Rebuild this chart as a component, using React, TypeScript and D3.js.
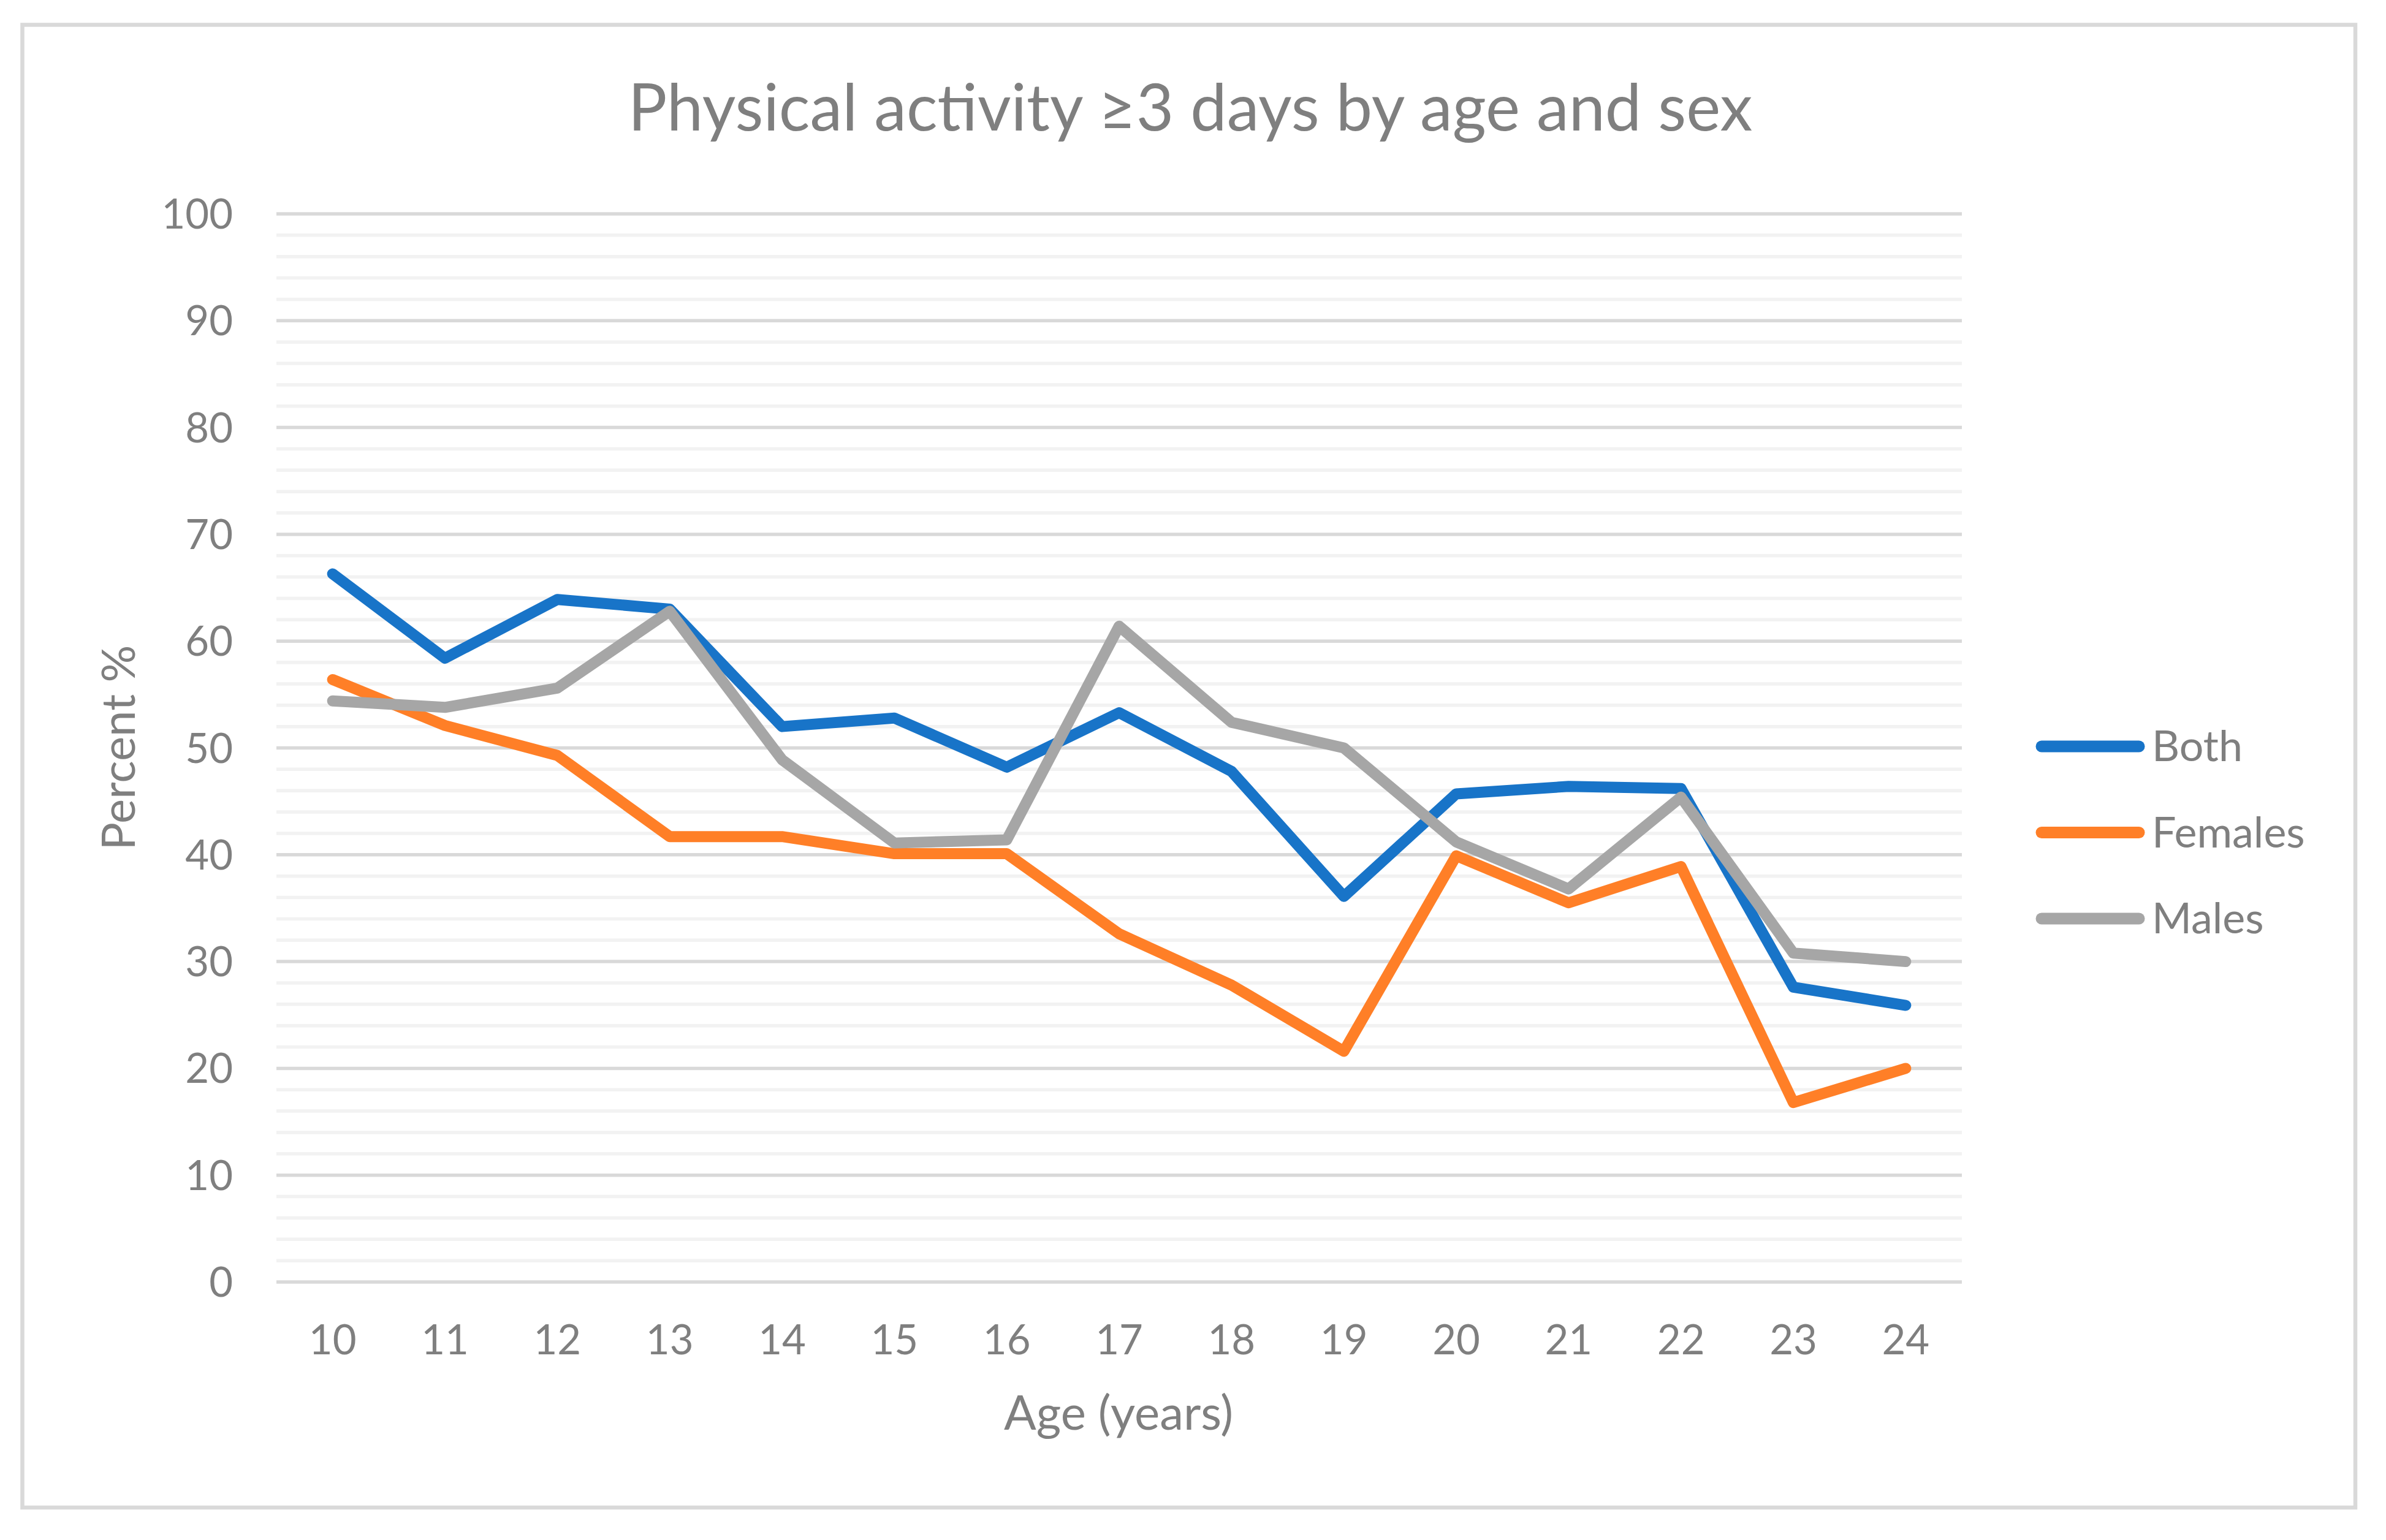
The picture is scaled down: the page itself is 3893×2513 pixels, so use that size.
import * as d3 from "d3";

const ages = ["10", "11", "12", "13", "14", "15", "16", "17", "18", "19", "20", "21", "22", "23", "24"];
const both = [66.3, 58.4, 63.9, 63.0, 52.0, 52.8, 48.2, 53.3, 47.8, 36.1, 45.7, 46.4, 46.2, 27.6, 25.9];
const females = [56.4, 52.1, 49.3, 41.7, 41.7, 40.1, 40.1, 32.6, 27.8, 21.6, 39.9, 35.5, 38.9, 16.8, 20.0];
const males = [54.4, 53.8, 55.6, 62.8, 48.9, 41.1, 41.4, 61.4, 52.4, 50.0, 41.2, 36.8, 45.4, 30.8, 30.0];
const seriesNames = ["Both", "Females", "Males"];
const yTicks = [0, 10, 20, 30, 40, 50, 60, 70, 80, 90, 100];

const W = 3893;
const H = 2513;
const colors = ["#1874c8", "#ff7f27", "#a6a6a6"];
const textColor = "#7f7f7f";
const font = "Lato, 'Open Sans', sans-serif";

export default function App() {
  const x = d3.scaleBand().domain(ages).range([451, 3201]);
  const y = d3.scaleLinear().domain([0, 100]).range([2092, 349]);
  const minor = d3.range(0, 101, 2).filter((v) => v % 10 !== 0);

  const line = d3
    .line<number>()
    .x((_, i) => (x(ages[i]) as number) + x.bandwidth() / 2)
    .y((d) => y(d));

  const series = [both, females, males];

  return (
    <svg
      width={W}
      height={H}
      style={{ position: "absolute", left: 0, top: 0, background: "#fff" }}
      fontFamily={font}
    >
      <rect x={0} y={0} width={W} height={H} fill="#fff" />
      <rect x={36.5} y={40.5} width={3806.5} height={2419.5} fill="#fff" stroke="#d9d9d9" strokeWidth={6.5} />

      <text x={1942} y={213} textAnchor="middle" fontSize={106} fill={textColor}>
        Physical activity ≥3 days by age and sex
      </text>

      {/* gridlines */}
      {minor.map((v) => (
        <line key={"m" + v} x1={451} x2={3201} y1={y(v)} y2={y(v)} stroke="#f2f2f2" strokeWidth={5.5} />
      ))}
      {yTicks.map((v) => (
        <line key={"g" + v} x1={451} x2={3201} y1={y(v)} y2={y(v)} stroke="#d9d9d9" strokeWidth={5.5} />
      ))}

      {/* y tick labels */}
      {yTicks.map((v) => (
        <text key={"t" + v} x={380} y={y(v) + 24} textAnchor="end" fontSize={67} fill={textColor}>
          {v}
        </text>
      ))}

      {/* x tick labels */}
      {ages.map((a) => (
        <text
          key={"x" + a}
          x={(x(a) as number) + x.bandwidth() / 2}
          y={2210}
          textAnchor="middle"
          fontSize={67}
          fill={textColor}
        >
          {a}
        </text>
      ))}

      <text x={1825} y={2333} textAnchor="middle" fontSize={78} fill={textColor}>
        Age (years)
      </text>
      <text
        transform={`translate(220,1220) rotate(-90)`}
        textAnchor="middle"
        fontSize={76}
        fill={textColor}
      >
        Percent %
      </text>

      {/* series lines */}
      {series.map((s, i) => (
        <path
          key={seriesNames[i]}
          d={line(s) || ""}
          fill="none"
          stroke={colors[i]}
          strokeWidth={18}
          strokeLinecap="round"
          strokeLinejoin="round"
        />
      ))}

      {/* legend */}
      {seriesNames.map((name, i) => {
        const cy = 1218 + i * 140.5;
        return (
          <g key={"l" + name}>
            <line x1={3331} x2={3490} y1={cy} y2={cy} stroke={colors[i]} strokeWidth={19} strokeLinecap="round" />
            <text x={3511} y={cy + 24} fontSize={70} fill={textColor}>
              {name}
            </text>
          </g>
        );
      })}
    </svg>
  );
}
